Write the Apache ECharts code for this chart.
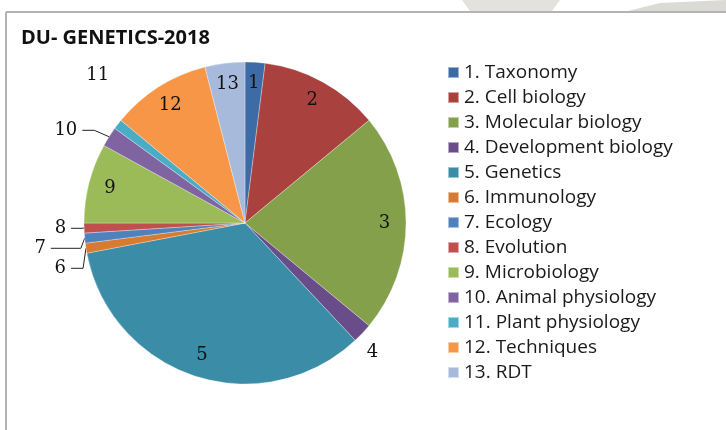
<!DOCTYPE html>
<html>

<head>
  <meta charset="UTF-8">
  <title>DU- GENETICS-2018</title>
  <script src="https://cdn.jsdelivr.net/npm/echarts@6.0.0/dist/echarts.min.js"></script>
  <style>
    html, body { margin: 0; padding: 0; background: #fff; }
    #chart { width: 726px; height: 430px; }
  </style>
</head>

<body>
  <div id="chart"></div>
  <script>
    // topics and share of questions (total 100)
    const categories = [
      '1. Taxonomy', '2. Cell biology', '3. Molecular biology', '4. Development biology',
      '5. Genetics', '6. Immunology', '7. Ecology', '8. Evolution', '9. Microbiology',
      '10. Animal physiology', '11. Plant physiology', '12. Techniques', '13. RDT'
    ];
    const values = [2, 12, 22, 2, 34, 1, 1, 1, 8, 2, 1, 10, 4];
    const colors = [
      '#3c6ba5', '#a9423f', '#84a04b', '#694d8b', '#3a8ca7', '#d77a32', '#4f81bd',
      '#c0504d', '#9bbb59', '#8064a2', '#4bacc6', '#f79646', '#a7badb'
    ];
    // which slices carry their number inside the pie
    const inside = [true, true, true, false, true, false, false, false, true, false, false, true, true];

    const numFont = { fontFamily: 'DejaVu Serif', fontSize: 18, color: '#111' };

    // leader line lengths for the outside labels
    function outsideLine(i) {
      if (i === 3) return { show: false, length: 10, length2: 0 };
      if (i === 10) return { show: false, length: 40, length2: 0 };
      if (i === 6) return { show: true, length: 10, length2: 30 };
      if (i === 7) return { show: true, length: 8, length2: 10 };
      return { show: true, length: 12, length2: 12 };
    }

    const mainData = categories.map((name, i) => ({
      name: name,
      value: values[i],
      itemStyle: { color: colors[i] },
      label: { show: !inside[i] },
      labelLine: inside[i] ? { show: false } : outsideLine(i)
    }));

    const overlayData = categories.map((name, i) => ({
      name: name,
      value: values[i],
      label: { show: inside[i] }
    }));

    // small label nudges so "4" and "11" sit where the original has them
    function nudge(p) {
      if (p.dataIndex === 10) return { dx: 28, dy: -24 };
      if (p.dataIndex === 3) return { dx: -8, dy: 12 };
      return {};
    }

    const chart = echarts.init(document.getElementById('chart'));
    chart.setOption({
      animation: false,
      title: {
        text: 'DU- GENETICS-2018',
        left: 16,
        top: 23,
        textStyle: { fontFamily: 'Open Sans', fontWeight: 'bold', fontSize: 20, color: '#111' }
      },
      legend: {
        orient: 'vertical',
        left: 442,
        top: 57,
        itemWidth: 11,
        itemHeight: 11,
        itemGap: 4,
        icon: 'rect',
        data: categories,
        selectedMode: false,
        textStyle: { fontFamily: 'Open Sans', fontSize: 19, lineHeight: 21, color: '#1a1a1a' }
      },
      graphic: [
        { type: 'line', shape: { x1: 6, y1: 12, x2: 726, y2: 12 }, style: { stroke: '#b3b3b3', lineWidth: 2 } },
        { type: 'line', shape: { x1: 6, y1: 12, x2: 6, y2: 430 }, style: { stroke: '#b3b3b3', lineWidth: 2 } },
        { type: 'polygon', shape: { points: [[462, 0], [560, 0], [552, 11], [470, 11]] }, style: { fill: '#e4e2de' } },
        { type: 'polygon', shape: { points: [[628, 11], [660, 3], [726, 0], [726, 11]] }, style: { fill: '#dcdad5' } }
      ],
      series: [
        {
          type: 'pie',
          center: [245, 223],
          radius: 161,
          startAngle: 90,
          clockwise: true,
          avoidLabelOverlap: true,
          itemStyle: { borderColor: 'rgba(255,255,255,0.5)', borderWidth: 0.6 },
          label: Object.assign({
            position: 'outside',
            formatter: p => p.name.split('.')[0]
          }, numFont),
          labelLine: { length: 12, length2: 12, lineStyle: { color: '#222', width: 1 } },
          labelLayout: nudge,
          emphasis: { disabled: true },
          data: mainData
        },
        {
          type: 'pie',
          center: [245, 223],
          radius: [112, 161],
          startAngle: 90,
          clockwise: true,
          silent: true,
          itemStyle: { color: 'rgba(0,0,0,0)' },
          label: Object.assign({
            position: 'inside',
            formatter: p => p.name.split('.')[0]
          }, numFont),
          labelLine: { show: false },
          emphasis: { disabled: true },
          data: overlayData
        }
      ]
    });
  </script>
</body>

</html>
